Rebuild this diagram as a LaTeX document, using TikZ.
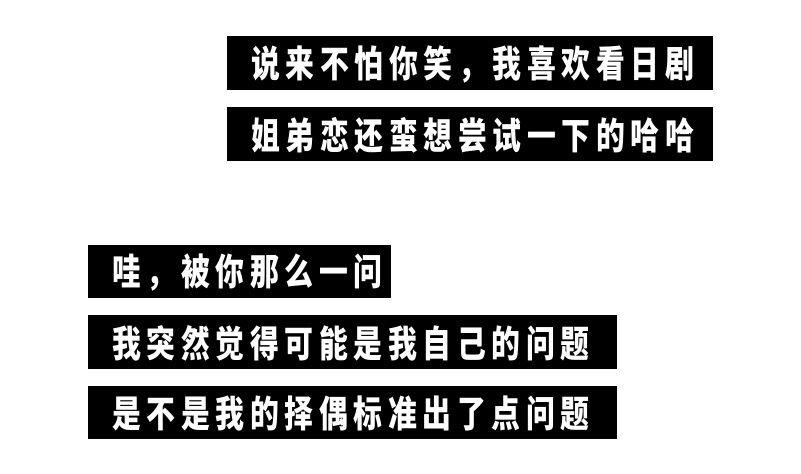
\documentclass[tikz,border=0pt]{standalone}
\usepackage{fontspec}
\newfontfamily\cjk{Noto Sans CJK SC}[FakeStretch=0.78]
\ExplSyntaxOn
\NewDocumentCommand\spaced{m}{\tl_map_inline:nn{#1}{\makebox[34.5pt][l]{##1}}}
\ExplSyntaxOff
\begin{document}
\begin{tikzpicture}[x=1pt,y=-1pt,
  bar/.style={fill=black, draw=none, inner sep=0pt, anchor=north west, minimum height=54pt},
  txt/.style={text=white, inner sep=0pt, anchor=west, font=\cjk\bfseries\fontsize{37}{37}\selectfont}]
\useasboundingbox[fill=white] (0,0) rectangle (801,474);
\node[bar, minimum width=486pt] (r1) at (227,36) {};
\node[bar, minimum width=486pt] (r2) at (227,107) {};
\node[bar, minimum width=303pt, minimum height=53pt] (r3) at (88,245) {};
\node[bar, minimum width=529pt] (r4) at (88,315) {};
\node[bar, minimum width=529pt, minimum height=53pt] (r5) at (88,386) {};
\node[txt] (t1) at ([xshift=24pt,yshift=-1pt]r1.west) {\spaced{说来不怕你笑，我喜欢看日剧}};
\node[txt] (t2) at ([xshift=24pt,yshift=-1pt]r2.west) {\spaced{姐弟恋还蛮想尝试一下的哈哈}};
\node[txt] (t3) at ([xshift=24pt,yshift=-1pt]r3.west) {\spaced{哇，被你那么一问}};
\node[txt] (t4) at ([xshift=24pt,yshift=-1pt]r4.west) {\spaced{我突然觉得可能是我自己的问题}};
\node[txt] (t5) at ([xshift=24pt,yshift=-1pt]r5.west) {\spaced{是不是我的择偶标准出了点问题}};
\end{tikzpicture}
\end{document}
